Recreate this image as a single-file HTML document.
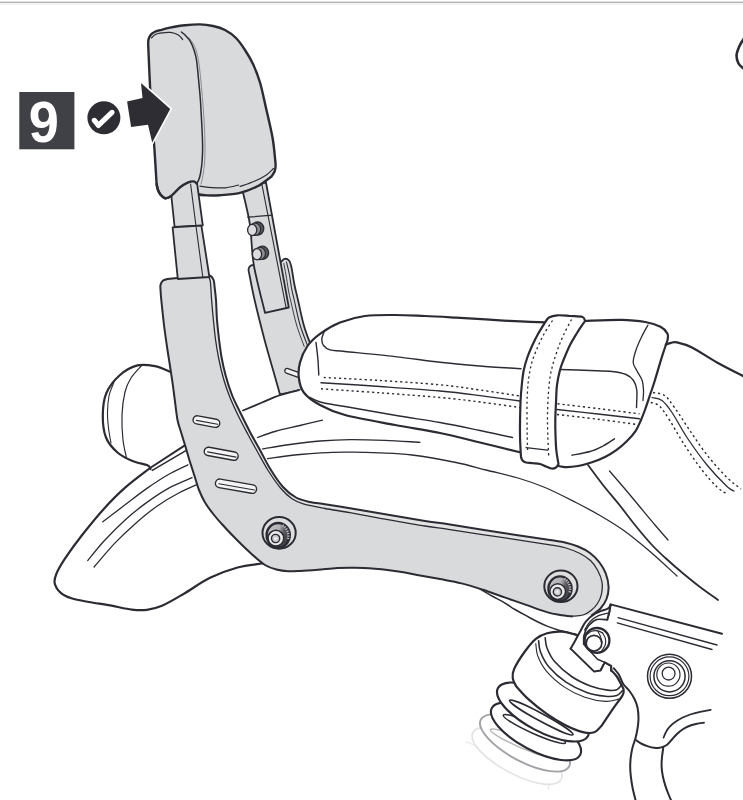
<!DOCTYPE html>
<html><head><meta charset="utf-8"><title>Step 9</title>
<style>
html,body{margin:0;padding:0;background:#fff;}
body{width:743px;height:800px;overflow:hidden;font-family:"Liberation Sans",sans-serif;}
svg{display:block;}
</style></head><body>
<svg width="743" height="800" viewBox="0 0 743 800" stroke-linecap="round" stroke-linejoin="round">
<defs><linearGradient id="kn" x1="0" y1="0.2" x2="1" y2="0.5"><stop offset="0" stop-color="#c4c4c8"/><stop offset="0.5" stop-color="#b2b2b6"/><stop offset="0.72" stop-color="#5a5a60"/><stop offset="1" stop-color="#3a3a40"/></linearGradient></defs>
<rect x="0" y="1.6" width="743" height="1.4" fill="#b4b4b4"/>
<rect x="0" y="3" width="743" height="2" fill="#f3f3f3"/>
<path d="M744,38.5C743.2,39.8 740.7,43.2 739.5,46C738.3,48.8 736.8,52.1 736.6,55C736.4,57.9 737.3,61.2 738.5,63.5C739.7,65.8 743.1,68.1 744,69" fill="none" stroke="#2b2b33" stroke-width="2.6" />
<path d="M249.5,275C249.3,274 248.3,270.6 248.6,269C248.8,267.4 249.9,266.2 251,265.5C252.1,264.8 254.3,265.1 255,265L281,262C281.6,261.5 283.2,259.1 284.5,258.8C285.8,258.6 287.8,259.1 289,260.5C290.2,261.9 290.6,263.4 291.5,267.5C292.4,271.6 293.4,279.6 294.5,285C295.6,290.4 296.5,293.4 298,300C299.5,306.6 301.6,317.3 303.6,324.5C305.6,331.7 307.5,336.6 310.2,343.3C312.9,350.1 318.4,361.4 320,365L322,384C318.2,385 306,388.2 299,390C292,391.8 283.2,393.8 280,394.5L280,394.5C278.9,390.7 276.2,381.1 273.5,371.6C270.8,362.1 267.1,349.6 264,337.7C260.9,325.8 257,310.4 254.6,300C252.2,289.6 250.3,279.2 249.5,275Z" fill="#d9dadb" stroke="#2b2b33" stroke-width="1.8" />
<path d="M286.5,262C287,264.2 288.7,270.7 289.5,275C290.3,279.3 290.7,283.8 291.5,288C292.3,292.2 292.8,293.9 294.2,300C295.6,306.1 297.7,317 299.9,324.5C302.1,332 306.1,341.8 307.4,345.2" fill="none" stroke="#2b2b33" stroke-width="1.1" />
<path d="M283.8,263.5C284.2,265.4 285.2,270.6 286,275C286.8,279.4 287.6,285.5 288.4,290C289.2,294.5 289.6,296.2 291,302C292.4,307.8 294.4,317.6 296.6,325C298.8,332.4 302.9,342.9 304.2,346.5" fill="none" stroke="#2b2b33" stroke-width="0.9" />
<g transform="translate(291,372.2) rotate(20)"><rect x="-6.5" y="-2.4" width="16" height="4.8" rx="2.4" fill="#f2f2f3" stroke="#2b2b33" stroke-width="1.3"/></g>
<path d="M241.5,186C241.8,187.1 241.6,186 243,192.5C244.4,199 248.2,212.9 250,225C251.8,237.1 251.3,250.4 253.8,265C256.3,279.6 263.1,304.8 265,312.8L265,312.8L288.8,307.5L288.8,307.5L266,182.5Z" fill="#d9dadb" stroke="#2b2b33" stroke-width="1.8" />
<path d="M261.8,183.8L286.2,308.2" fill="none" stroke="#2b2b33" stroke-width="1.1" />
<path d="M247.8,217.2L272.3,215.2" fill="none" stroke="#2b2b33" stroke-width="1.2" />
<g transform="translate(252.8,229.4)">
<ellipse cx="4.8" cy="-0.8" rx="6.2" ry="6.6" fill="#55555c" stroke="#2b2b33" stroke-width="1.3"/>
<ellipse cx="2.2" cy="-0.2" rx="5.6" ry="6.2" fill="#8d8d93" stroke="#2b2b33" stroke-width="1.1"/>
<ellipse cx="-0.6" cy="0.6" rx="4.6" ry="5.6" fill="#dcdcde" stroke="#2b2b33" stroke-width="1.3"/>
</g>
<g transform="translate(257.6,253.6)">
<ellipse cx="4.8" cy="-0.8" rx="6.2" ry="6.6" fill="#55555c" stroke="#2b2b33" stroke-width="1.3"/>
<ellipse cx="2.2" cy="-0.2" rx="5.6" ry="6.2" fill="#8d8d93" stroke="#2b2b33" stroke-width="1.1"/>
<ellipse cx="-0.6" cy="0.6" rx="4.6" ry="5.6" fill="#dcdcde" stroke="#2b2b33" stroke-width="1.3"/>
</g>
<path d="M150,469L185,446L243,410.5C249.2,407.9 270.7,398.6 280,395.2C289.3,391.8 290.7,391.9 299,390C307.3,388.1 324.8,385 330,384L330,384C345,393.3 388.3,424.3 420,440C451.7,455.7 488.3,464.3 520,478C551.7,491.7 590,508.3 610,522C630,535.7 641.7,547 640,560C638.3,573 636.7,597.5 600,600C563.3,602.5 470,579.8 420,575C370,570.2 326.7,572.9 300,571C273.3,569.1 270.4,564.4 260,563.8C249.6,563.2 247.5,564.8 237.5,567.5C227.5,570.2 208.6,576.5 200,580C191.4,583.5 190.8,586.1 185.8,588.8C180.8,591.5 176,593.1 170,596C164,598.9 155.8,603.9 150,606C144.2,608.1 140,608.5 135,608.8C130,609 125,608.3 120,607.5C115,606.7 110.4,604.7 105,603.8C99.6,602.9 93.3,603 87.5,602C81.7,601 74.8,599.3 70,597.5C65.2,595.7 61.4,593.5 58.8,591C56.2,588.5 55,585.6 54.5,582.5C54,579.4 53.8,577.1 56,572.5C58.2,567.9 63.7,560.4 67.5,555C71.3,549.6 73.4,546.7 78.8,540C84.2,533.3 92.3,523.3 100,515C107.7,506.7 116.9,497.9 125,490C133.1,482.1 144.8,471.2 148.8,467.5Z" fill="#fff" stroke="none" stroke-width="0" />
<path d="M150.1,468C146,471.2 133.1,480.6 125.4,487.4C117.7,494.2 111,501 103.8,508.9C96.6,516.8 88.8,526.5 82.3,534.7C75.8,543 69.4,551.9 65.1,558.4C60.8,564.9 58.2,569.4 56.5,573.5C54.8,577.6 54,580 54.7,583.2C55.4,586.4 58,590.4 60.8,592.9C63.6,595.4 66.8,596.8 71.5,598.3C76.2,599.8 82.3,600.8 88.8,602C95.3,603.2 103.1,604.1 110.3,605.4C117.5,606.7 125.7,608.9 131.8,609.6C137.9,610.3 141.9,610.4 146.9,609.8C151.9,609.2 155.9,608.4 162,605.8C168.1,603.2 175.5,598.7 183.5,594C191.5,589.3 201,582.2 210,577.8C219,573.4 228.8,569.9 237.5,567.5C246.2,565.1 257.9,564.2 262,563.5" fill="none" stroke="#2b2b33" stroke-width="2.2" />
<path d="M243,410.5C246.2,409.2 255.8,405.1 262,402.5C268.2,399.9 273.8,397.2 280,395.2C286.2,393.1 295.8,391 299,390.2" fill="none" stroke="#2b2b33" stroke-width="1.8" />
<path d="M102.8,521.8C106.6,518.9 118.1,510.2 125.4,504.6C132.8,499 139.7,493.4 146.9,488.4C154.1,483.4 161.6,478.4 168.4,474.5C175.2,470.6 184.6,466.4 187.8,464.8" fill="none" stroke="#2b2b33" stroke-width="1.3" />
<path d="M87.7,560.6C90.4,557.4 97.5,548 103.8,541.2C110.1,534.4 118.2,526.2 125.4,519.7C132.6,513.2 139.7,507.6 146.9,502.4C154.1,497.2 160.9,492.5 168.4,488.4C175.9,484.3 188.2,479.5 192.1,477.7" fill="none" stroke="#2b2b33" stroke-width="1.3" />
<path d="M94.1,567C97.5,563.1 107.6,550.8 114.6,543.4C121.6,536 128.9,529.2 136.1,522.9C143.3,516.6 150.5,510.7 157.7,505.7C164.9,500.7 172.6,496.3 179.2,492.8C185.8,489.3 194,486 197,484.6" fill="none" stroke="#2b2b33" stroke-width="1.3" />
<path d="M257.5,437.5C260.4,436.5 267.9,433.5 275,431.5C282.1,429.5 292.1,427.4 300,425.5C307.9,423.6 318.8,421.1 322.5,420.2" fill="none" stroke="#2b2b33" stroke-width="1.3" />
<path d="M262.5,448.8C267.1,448.1 280.4,445.8 290,444.5C299.6,443.2 310,441.8 320,441C330,440.2 339.2,439.7 350,439.6C360.8,439.5 373.3,439.9 385,440.3C396.7,440.8 414.2,442 420,442.3" fill="none" stroke="#2b2b33" stroke-width="1.3" />
<path d="M267.5,458.6C272.9,457.9 287.1,455.6 300,454.5C312.9,453.4 331.7,452.5 345,452.2C358.3,451.9 368.8,452.3 380,452.8C391.2,453.3 399.3,453.4 412,455C424.7,456.6 443.7,460 456,462.5C468.3,465 475.7,467.4 486,470C496.3,472.6 508.2,475.1 518,478C527.8,480.9 535.5,483.5 545,487.5C554.5,491.5 565.8,497.3 575,502C584.2,506.7 591.8,510.7 600,515.5C608.2,520.3 616.2,525 624.5,531C632.8,537 641.2,544 650,551.5C658.8,559 672.5,571.9 677,576" fill="none" stroke="#2b2b33" stroke-width="1.3" />
<path d="M170.5,372C167.9,371 160.5,367.3 155,366.2C149.5,365.1 143.3,363.9 137.5,365.4C131.7,366.9 125.2,370.4 120,375C114.8,379.6 109.3,386.3 106.4,393C103.5,399.7 102.9,407.6 102.8,415C102.7,422.4 103.5,431.2 106,437.5C108.5,443.8 113.1,448.6 117.5,452.5C121.9,456.4 127.5,458.9 132.5,461C137.5,463.1 144.5,464 147.5,465.3C150.5,466.6 150,468.4 150.5,469L184,443L172,380Z" fill="#fff" stroke="none" stroke-width="0" />
<path d="M170.5,372C167.9,371 160.5,367.3 155,366.2C149.5,365.1 143.3,363.9 137.5,365.4C131.7,366.9 125.2,370.4 120,375C114.8,379.6 109.3,386.3 106.4,393C103.5,399.7 102.9,407.6 102.8,415C102.7,422.4 103.5,431.2 106,437.5C108.5,443.8 113.1,448.6 117.5,452.5C121.9,456.4 127.5,458.9 132.5,461C137.5,463.1 144.5,464 147.5,465.3C150.5,466.6 150,468.4 150.5,469" fill="none" stroke="#2b2b33" stroke-width="2.2" />
<path d="M141.5,365.6C139.8,367.7 133.8,373.6 131,378C128.2,382.4 126.5,385.8 125,392C123.5,398.2 122.3,407 122,415C121.7,423 122.2,432.8 123,440C123.8,447.2 125.9,455 126.5,458" fill="none" stroke="#2b2b33" stroke-width="1.2" />
<path d="M113.8,382.5C113,384.8 110,391.1 109,396C108,400.9 107.6,406.7 107.5,412C107.4,417.3 107.9,422.8 108.5,428C109.1,433.2 110.6,440.5 111,443" fill="none" stroke="#2b2b33" stroke-width="1.1" />
<path d="M150.1,468L186,444.6" fill="none" stroke="#2b2b33" stroke-width="2.0" />
<path d="M152.3,470.4L188,449.4" fill="none" stroke="#2b2b33" stroke-width="1.6" />
<path d="M665,343.8L677,342.5L692,347.5L717,362.5L745,377L745,500L600,500L588,465L640,420Z" fill="#fff" stroke="none" stroke-width="0" />
<path d="M667.6,340C667.6,338.9 668.6,335.7 667.4,333.5C666.2,331.3 664.2,328.7 660.5,326.8C656.8,324.9 651.9,323.2 645.3,322C638.7,320.8 631.2,320 621.1,319.8C611,319.6 590.6,320.8 584.5,321L584.5,321C577.9,321.2 559.1,322.4 545,322.3C530.9,322.2 514.8,321.1 500,320.3C485.2,319.5 468.5,318.3 456,317.6C443.5,316.9 435.2,316.4 425,316C414.8,315.6 405,315 395,315C385,315 374.2,314.8 365,316C355.8,317.2 347.5,319.5 340,322.5C332.5,325.5 325.4,329.9 320,333.8C314.6,337.7 310.8,341.2 307.5,346C304.2,350.8 301.4,357.2 300,362.5C298.6,367.8 298.2,372.5 298.8,377.5C299.4,382.5 300.3,387.9 303.8,392.5C307.3,397.1 313.1,401.2 320,405C326.9,408.8 332.5,411.7 345,415C357.5,418.3 379.2,422 395,425C410.8,428 425.8,430.1 440,433C454.2,435.9 466.5,439.2 480,442.5C493.5,445.8 514.2,450.8 521,452.5L521,452.5C525,454.1 538,459.6 545,462C552,464.4 557.5,466.1 563,466.8C568.5,467.5 573.2,466.8 578,466C582.8,465.2 587.5,463.8 592,462.3C596.5,460.8 601,459 605,457C609,455 612.6,452.9 616.3,450.2C620,447.5 623.8,444.2 627,441C630.2,437.8 633.4,434.3 635.7,430.8C638,427.3 639.4,423.6 641,420C642.6,416.4 643.8,413.2 645.3,409C646.8,404.8 648.4,399.8 650,395C651.6,390.2 653,386.6 655,380C657,373.4 660.2,362.4 662.3,355.7C664.4,349 666.7,342.6 667.6,340Z" fill="#fff" stroke="#2b2b33" stroke-width="2.2" />
<path d="M665.8,344.6C666.7,344.3 669.1,343.2 671,342.8C672.9,342.4 673.5,341.6 677,342.4C680.5,343.2 685.3,344.1 692,347.5C698.7,350.9 708.2,357.6 717,362.5C725.8,367.4 740.3,374.6 745,377" fill="none" stroke="#2b2b33" stroke-width="2.2" />
<path d="M310,397.5C312,398.3 316.2,401 322,402.5C327.8,404 332.8,404.4 345,406.5C357.2,408.6 379.2,412.6 395,415.3C410.8,418 425.8,420 440,422.5C454.2,425 467.9,428 480,430.5C492.1,433 507.1,436.3 512.5,437.5" fill="none" stroke="#2b2b33" stroke-width="1.4" />
<path d="M323.8,332.5C323.5,333.6 321.9,336.8 321.8,339C321.8,341.2 322.1,343.7 323.5,345.5C324.9,347.3 326.4,348.8 330,349.8C333.6,350.8 334.2,350.4 345,351.5C355.8,352.6 379.2,354.8 395,356.6C410.8,358.4 425.8,360.7 440,362.3C454.2,363.9 466.5,364.9 480,366C493.5,367.1 514.2,368.3 521,368.8" fill="none" stroke="#2b2b33" stroke-width="1.4" />
<path d="M316,342.5C316.3,345.1 317.3,352.6 317.8,358C318.3,363.4 318.6,372.2 318.8,375" fill="none" stroke="#2b2b33" stroke-width="1.4" />
<path d="M323.8,377.5C333.2,378 360.6,379.3 380,380.5C399.4,381.7 423.3,383.2 440,384.8C456.7,386.4 466.7,388.1 480,390C493.3,391.9 513.3,395 520,396" fill="none" stroke="#2b2b33" stroke-width="1.4" stroke-dasharray="2.2 2.9" stroke-linecap="butt"/>
<path d="M321,382.7C330.8,383.3 360.2,385.1 380,386.5C399.8,387.9 423.3,389.5 440,391C456.7,392.5 466.7,393.9 480,395.6C493.3,397.3 513.3,400.1 520,401" fill="none" stroke="#2b2b33" stroke-width="1.4" />
<path d="M321,388.8C330.8,389.5 360.2,391.4 380,392.8C399.8,394.2 423.3,396 440,397.5C456.7,399 466.7,400.3 480,402C493.3,403.7 513.3,406.6 520,407.5" fill="none" stroke="#2b2b33" stroke-width="1.4" stroke-dasharray="2.2 2.9" stroke-linecap="butt"/>
<path d="M560,369.5C565,369.7 581.3,370.2 590,370.5C598.7,370.8 606,370.8 612,371.5C618,372.2 622.4,373 626,374.5C629.6,376 631.7,377.9 633.5,380.5C635.3,383.1 636.3,385.5 636.8,390C637.3,394.5 636.5,404.6 636.5,407.5" fill="none" stroke="#2b2b33" stroke-width="1.4" />
<path d="M648,325C646.9,327 643.5,332.8 641.5,337C639.5,341.2 637.4,345.8 636,350C634.6,354.2 633,359 633.2,362.5C633.4,366 635.5,368.1 637,371C638.5,373.9 640.9,376.8 642,380C643.1,383.2 643.3,386.6 643.5,390C643.7,393.4 643.1,398.8 643,400.5" fill="none" stroke="#2b2b33" stroke-width="1.3" />
<path d="M557.5,403.8C564.6,404.6 586.3,407.1 600,408.8C613.7,410.5 632.9,413 639.5,413.8" fill="none" stroke="#2b2b33" stroke-width="1.4" stroke-dasharray="2.2 2.9" stroke-linecap="butt"/>
<path d="M557,409.5C564.2,410.3 586.2,412.6 600,414.2C613.8,415.8 632.9,418 639.5,418.8" fill="none" stroke="#2b2b33" stroke-width="1.4" />
<path d="M557,414.5C564.2,415.3 586.7,417.8 600,419.5C613.3,421.2 630.8,423.7 637,424.5" fill="none" stroke="#2b2b33" stroke-width="1.4" stroke-dasharray="2.2 2.9" stroke-linecap="butt"/>
<path d="M572,455.2C575,454.6 584.8,453 590,451.5C595.2,450 598.9,448.1 603,446C607.1,443.9 612.6,440 614.5,438.8" fill="none" stroke="#2b2b33" stroke-width="1.4" />
<path d="M653,392.5C654.9,393 660.9,393 664.5,395.5C668.1,398 670.3,401.8 674.5,407.5C678.7,413.2 684.1,422.1 689.5,430C694.9,437.9 700.8,447.1 707,455C713.2,462.9 721.3,471.8 727,477.5C732.7,483.2 738.7,487.1 741,489" fill="none" stroke="#2b2b33" stroke-width="1.4" stroke-dasharray="2.2 2.9" stroke-linecap="butt"/>
<path d="M652,397.5C653.7,398 658.7,398 662,400.5C665.3,403 667.8,406.3 672,412.5C676.2,418.7 681.2,428.8 687,437.5C692.8,446.2 700.3,456.8 707,465C713.7,473.2 722.5,482.2 727,486.5C731.5,490.8 732.8,490.2 734,491" fill="none" stroke="#2b2b33" stroke-width="1.3" />
<path d="M650.8,402.5C652.2,403.1 656.4,403.1 659.5,406C662.6,408.9 665.3,413.5 669.5,420C673.7,426.5 679.1,436.7 684.5,445C689.9,453.3 696.6,463 702,470C707.4,477 712.8,483 717,487C721.2,491 725.3,492.8 727,494" fill="none" stroke="#2b2b33" stroke-width="1.4" stroke-dasharray="2.2 2.9" stroke-linecap="butt"/>
<path d="M588,465C590.5,468.3 597.8,478.3 603,485C608.2,491.7 614.2,498.3 619.5,505C624.8,511.7 629.6,518.3 635,525C640.4,531.7 646.8,539.4 652,545C657.2,550.6 661,553.9 666,558.5C671,563.1 676.3,567.8 682,572.5C687.7,577.2 694,582.4 700,587C706,591.6 715,597.8 718,600" fill="none" stroke="#2b2b33" stroke-width="1.8" />
<path d="M609.5,471C612.1,474 619.9,483 625,489C630.1,495 635,501 640,507C645,513 650.3,519.5 655,525C659.7,530.5 665.8,537.5 668,540" fill="none" stroke="#2b2b33" stroke-width="1.3" />
<path d="M545,322.5C545.7,321.7 546.9,318.7 549,317.5C551.1,316.3 554,315.6 557.5,315.3C561,315.1 565.8,315.7 570,316C574.2,316.3 580,316.2 582.5,317C585,317.8 584.6,320.3 585,321L585,321C583.7,323 579.5,329 577,333C574.5,337 572.2,340.5 570,345C567.8,349.5 565.2,355.8 563.5,360C561.8,364.2 561.1,365.8 560,370C558.9,374.2 557.7,379.6 557,385C556.3,390.4 556.3,396.7 556,402.5C555.7,408.3 555.4,414.6 555.3,420C555.2,425.4 555.3,430 555.5,435C555.7,440 555.8,445.2 556.3,450C556.8,454.8 558.1,461.7 558.5,464L558.5,464C558.1,464.6 557.2,466.8 556,467.5C554.8,468.2 553.2,468.7 551.5,468.5C549.8,468.3 547.9,467.2 546,466.5C544.1,465.8 542.2,464.6 540,464C537.8,463.4 535.3,463.4 533,463.2C530.7,462.9 527.8,462.9 526,462.5C524.2,462.1 523.3,461.4 522.5,460.5C521.7,459.6 521.2,457.6 521,457L521,457C520.8,453.3 520.1,444.1 520,435C519.9,425.9 520.2,410.8 520.5,402.5C520.8,394.2 521.2,390.4 521.8,385C522.3,379.6 522.8,374.7 523.8,370C524.8,365.3 526,361.2 527.5,357C529,352.8 530.8,348.8 532.5,345C534.2,341.2 535.9,337.8 538,334C540.1,330.2 543.8,324.4 545,322.5Z" fill="#fff" stroke="#2b2b33" stroke-width="2.2" />
<path d="M552.5,320.5C551.1,322.8 546.5,329.5 544,334C541.5,338.5 539.5,342.8 537.5,347.5C535.5,352.2 533.5,357 532,362C530.5,367 529.6,372 528.8,377.5C528,383 527.6,388.8 527.3,395C527,401.2 527,408.3 527,415C527,421.7 527.1,428.8 527.2,435C527.3,441.2 527.6,449.6 527.7,452.5" fill="none" stroke="#2b2b33" stroke-width="1.3" stroke-dasharray="2.2 2.9" stroke-linecap="butt"/>
<path d="M571.5,319.5C570.2,322.1 565.8,329.9 563.5,335C561.2,340.1 559.2,345.2 557.5,350C555.8,354.8 554.2,359.4 553,364C551.8,368.6 550.8,372.3 550,377.5C549.2,382.7 548.7,388.8 548.3,395C547.9,401.2 547.6,408.3 547.5,415C547.4,421.7 547.6,427.9 547.8,435C548,442.1 548.6,453.8 548.8,457.5" fill="none" stroke="#2b2b33" stroke-width="1.3" stroke-dasharray="2.2 2.9" stroke-linecap="butt"/>
<path d="M526,447.7L547.5,450.2" fill="none" stroke="#2b2b33" stroke-width="1.3" />
<path d="M610.8,604.2L722,633.8L722,760L640,760L636,705L612,668L600,645L596,622Z" fill="#fff" stroke="none" stroke-width="0" />
<path d="M722,633.8L610.6,604.4L609.2,612.6L607.2,619.8" fill="none" stroke="#2b2b33" stroke-width="2.0" />
<path d="M618,617.6L717,645" fill="none" stroke="#2b2b33" stroke-width="1.3" />
<path d="M617.2,622.8L712,649.5" fill="none" stroke="#2b2b33" stroke-width="1.3" />
<circle cx="669.5" cy="676.3" r="22" fill="#fff" stroke="#2b2b33" stroke-width="1.5"/>
<circle cx="669.5" cy="676.3" r="19.4" fill="#fff" stroke="#2b2b33" stroke-width="1.2"/>
<circle cx="669.5" cy="676.3" r="15.6" fill="#fff" stroke="#2b2b33" stroke-width="1.5"/>
<circle cx="668.4" cy="674.6" r="11.6" fill="none" stroke="#2b2b33" stroke-width="1.2"/>
<circle cx="668.6" cy="673.6" r="6.4" fill="none" stroke="#2b2b33" stroke-width="1.3"/>
<path d="M611.4,665.6C612.6,667 616.5,671 618.5,674C620.5,677 621.3,681 623.1,683.8C624.9,686.6 627.6,688.4 629.5,691C631.4,693.6 633.2,696.4 634.6,699.2C636,702 637,704.8 637.6,708C638.2,711.2 638.5,715.2 638.5,718.5C638.5,721.8 638.1,724.8 637.6,728C637.1,731.2 636.5,734.4 635.6,737.7C634.7,741 633.2,744.8 632.4,748C631.6,751.2 631.2,753.8 630.8,757C630.4,760.2 630.2,763.8 630.2,767C630.2,770.2 630.4,772.7 630.8,776.2C631.2,779.7 631.8,783.9 632.6,788C633.4,792.1 635.3,798.8 635.8,801" fill="none" stroke="#2b2b33" stroke-width="2.0" />
<path d="M636.4,740.4C637.3,741 640,743 642,744C644,745 646.1,745.8 648.1,746.4C650.1,747 652.1,747.6 654,747.8C655.9,748 658,747.9 659.7,747.7C661.4,747.5 662.7,746.9 664,746.4C665.3,745.9 666.1,745.6 667.4,744.5C668.7,743.4 670.4,741.3 672,739.5C673.6,737.7 675.2,735.6 677,733.9C678.8,732.2 680.6,730.8 682.5,729.5C684.4,728.2 686.2,727.1 688.5,726.2C690.8,725.3 693.4,724.6 696,724C698.6,723.4 702.6,722.9 703.9,722.7" fill="none" stroke="#2b2b33" stroke-width="2.0" />
<path d="M663.5,737.7C663.9,736.8 665,733.8 666,732C667,730.2 667.7,728.9 669.3,727.2C670.9,725.5 673.2,723.4 675.5,721.8C677.8,720.2 680.2,718.8 682.8,717.5C685.4,716.2 688.1,715.2 691,714.2C693.9,713.2 696.8,712.5 700.1,711.8C703.4,711.1 708.9,710.1 710.7,709.8" fill="none" stroke="#2b2b33" stroke-width="1.7" />
<path d="M663.3,747.6C663.1,749.2 662.3,753.8 662,757C661.7,760.2 661.5,763.4 661.6,766.6C661.7,769.8 662.2,772.8 662.8,776C663.4,779.2 664.5,783.1 665.4,785.9C666.3,788.7 667,790.5 668,793C669,795.5 670.8,799.7 671.4,801" fill="none" stroke="#2b2b33" stroke-width="2.0" />
<path d="M466,742C467.3,742.5 471.5,743.3 474,745C476.5,746.7 479.8,750.8 481,752" fill="none" stroke="#ececed" stroke-width="1.4" />
<path d="M527,779C527.7,777.7 530.2,773 531,771C531.8,769 531.4,767.7 531.5,767" fill="none" stroke="#e4e4e6" stroke-width="1.4" />
<path d="M537,783C537.4,781.8 539.2,778.3 539.5,776C539.8,773.7 538.7,770.2 538.5,769" fill="none" stroke="#e4e4e6" stroke-width="1.4" />
<path d="M548,789C548.3,787.5 549.9,783.2 550,780C550.1,776.8 548.8,771.7 548.5,770" fill="none" stroke="#e9e9ea" stroke-width="1.4" />
<ellipse cx="517" cy="756" rx="50" ry="18" fill="#fff" stroke="#e2e2e4" stroke-width="1.6" transform="rotate(28 517 756)"/>
<ellipse cx="525" cy="743" rx="50" ry="18.5" fill="#fff" stroke="#a2a2a7" stroke-width="1.9" transform="rotate(28 525 743)"/>
<ellipse cx="523.6" cy="743.7" rx="36" ry="4.8" fill="#fff" stroke="#b4b4b8" stroke-width="1.4" transform="rotate(23 523.6 743.7)"/>
<ellipse cx="536" cy="731.5" rx="50" ry="19" fill="#fff" stroke="#2b2b33" stroke-width="2.1" transform="rotate(28 536 731.5)"/>
<ellipse cx="534.4" cy="729" rx="34" ry="4.6" fill="#fff" stroke="#2b2b33" stroke-width="1.6" transform="rotate(24 534.4 729)"/>
<ellipse cx="543" cy="712" rx="51" ry="19.4" fill="#fff" stroke="#2b2b33" stroke-width="2.2" transform="rotate(28 543 712)"/>
<ellipse cx="541.3" cy="717.5" rx="36" ry="3.8" fill="#fff" stroke="#2b2b33" stroke-width="1.7" transform="rotate(28.4 541.3 717.5)"/>
<path d="M577.3,635.1C574.8,634.5 567.2,632 562.2,631.7C557.2,631.4 551.5,632 547.1,633.2C542.7,634.4 539.6,635.7 535.8,638.8C532,641.9 528.1,647 524.5,652C520.9,657 516.1,664.6 514.1,669C512.1,673.4 512.5,675.6 512.8,678.4C513.1,681.2 515.5,684.7 516,686L516,686C518,688.2 523.1,694.4 528.3,699.1C533.5,703.8 540.8,709.8 547.1,714.2C553.4,718.6 560,722.5 566,725.5C572,728.5 578.2,731 582.9,732.1C587.6,733.2 591.1,733.4 594.2,732.3C597.4,731.2 600.5,726.6 601.8,725.5L601.8,725.5C603.7,722.7 609.6,713.6 613.1,708.6C616.6,703.6 620.8,698.5 622.5,695.4C624.2,692.2 623.8,691.4 623.6,689.7C623.4,688 621.9,685.8 621.5,685L621.5,685C620.7,683.6 618.5,678.9 616.8,676.5C615.1,674.1 612.1,671.4 611.2,670.4L611.2,665.8L604.8,662.4L590,643Z" fill="#fff" stroke="#2b2b33" stroke-width="2.2" />
<path d="M545.2,637.9C545.5,639.6 545.5,644.4 547.1,648.3C548.7,652.2 550.5,656.8 554.6,661.5C558.7,666.2 565.6,672.4 571.6,676.5C577.6,680.6 584.4,683.7 590.4,686C596.4,688.3 603,689.5 607.4,690.1C611.8,690.7 614.4,690.6 616.8,689.7C619.1,688.9 620.7,685.8 621.5,685" fill="none" stroke="#2b2b33" stroke-width="1.6" />
<path d="M538.6,640.7C538.9,642.6 538.8,647.6 540.5,652C542.2,656.4 544.8,662.1 549,667.1C553.2,672.1 559.7,678 566,682.2C572.3,686.4 580.1,690.1 586.7,692.5C593.3,694.9 600.5,695.8 605.5,696.3C610.5,696.8 614,696.3 616.8,695.4C619.6,694.5 621.5,691.5 622.5,690.7" fill="none" stroke="#2b2b33" stroke-width="1.6" />
<path d="M535.8,643.6C536.1,645.6 536,651.2 537.7,655.8C539.4,660.3 541.8,665.7 546.2,670.9C550.6,676.1 557.7,682.5 564.1,686.9C570.5,691.3 577.9,694.9 584.8,697.3C591.7,699.7 599.9,701.1 605.5,701.4C611.1,701.7 616.5,699.5 618.7,699.1" fill="none" stroke="#2b2b33" stroke-width="1.1" />
<path d="M610.5,605L595.4,613.4L585.8,621.6L579.6,632.6L570.6,648.6L594.2,671.6L600.6,670.6L604.8,662.4L611.2,665.8L611.2,670.2L616,664L612.5,640L611.5,622L608,619.8Z" fill="#fff" stroke="none" stroke-width="0" />
<path d="M610.2,605.4C609.8,605.9 610.3,607.3 607.8,608.6C605.3,609.9 599.1,611.2 595.4,613.4C591.7,615.6 588.4,618.4 585.8,621.6C583.2,624.8 581.4,629.4 579.6,632.6C577.8,635.8 576.5,638.3 575,641C573.5,643.7 571.3,647.3 570.6,648.6" fill="none" stroke="#2b2b33" stroke-width="2.0" />
<path d="M609,612.8C607.2,613.3 601.7,614.1 598.5,615.6C595.3,617.1 592.3,619.2 590,621.6C587.7,624 585.5,628.6 584.6,630" fill="none" stroke="#2b2b33" stroke-width="1.2" />
<path d="M607.2,619.8C605.5,619.8 599.9,618.6 596.8,619.6C593.7,620.6 590.6,623.2 588.5,625.8C586.4,628.4 584.8,632.3 584,635.4C583.2,638.5 583.8,642.8 583.7,644.3" fill="none" stroke="#2b2b33" stroke-width="1.6" />
<path d="M610.6,604.4L609.2,612.6L607.2,619.8" fill="none" stroke="#2b2b33" stroke-width="2.0" />
<path d="M570.6,648.6L594.2,671.6L600.6,670.6L604.8,662.4L611.2,665.8L611.2,670.8" fill="none" stroke="#2b2b33" stroke-width="2.0" />
<path d="M583.7,644.3L597.5,659.2L604.8,662.4" fill="none" stroke="#2b2b33" stroke-width="1.5" />
<path d="M603,664.4L600.4,669.6" fill="none" stroke="#2b2b33" stroke-width="1.0" />
<circle cx="597" cy="640.4" r="12.4" fill="#fff" stroke="#2b2b33" stroke-width="2.3"/>
<circle cx="594" cy="643.2" r="7.8" fill="#fff" stroke="#2b2b33" stroke-width="1.7"/>
<path d="M587.6,634.2C588.2,633.7 589.8,631.8 591.5,631.2C593.2,630.6 595.8,630.5 597.6,630.8C599.5,631.1 601.8,632.6 602.6,633" fill="none" stroke="#2b2b33" stroke-width="1.2" />
<path d="M597.6,630.8L600.6,636.6" fill="none" stroke="#2b2b33" stroke-width="1.1" />
<path d="M602.6,633C603.1,633.9 605,636.6 605.4,638.6C605.8,640.6 605.8,643 605.2,645C604.6,647 602.5,649.5 602,650.4" fill="none" stroke="#2b2b33" stroke-width="1.2" />
<path d="M600.6,636.6L602.2,642.4" fill="none" stroke="#2b2b33" stroke-width="1.0" />
<path d="M205,275.2C205.9,275.3 209.1,275 210.5,275.8C211.9,276.6 212.9,278.1 213.6,280C214.3,281.9 214.2,283.7 214.6,287C215,290.3 215.6,294.5 216,300C216.4,305.5 216.5,313.8 217,320C217.5,326.2 218.1,331.3 218.8,337.5C219.6,343.7 220.4,350.8 221.5,357C222.6,363.2 223.8,368.7 225.5,375C227.2,381.3 229.5,388.7 232,395C234.5,401.3 237.5,406.8 240.5,413C243.5,419.2 246.8,425.8 250,432C253.2,438.2 256.7,443.9 260,450C263.3,456.1 266.2,462.3 270,468.5C273.8,474.7 278.7,482.2 283,487C287.3,491.8 291.5,495 296,497.5C300.5,500 305.2,500.9 310,502C314.8,503.1 318.3,503.2 325,504.2C331.7,505.2 341.7,506.8 350,508.2C358.3,509.6 362.5,510.4 375,512.5C387.5,514.6 412.5,519 425,521C437.5,523 437.5,522.6 450,524.5C462.5,526.4 483.3,529.9 500,532.5C516.7,535.1 539.2,538.3 550,540C560.8,541.7 560.3,541.4 565,542.5C569.7,543.6 573.8,544.8 578,546.5C582.2,548.2 586.4,550.3 590,553C593.6,555.7 596.9,559.1 599.5,562.5C602.1,565.9 604.3,569.4 605.8,573.5C607.3,577.6 608.5,582.8 608.6,587C608.7,591.2 607.9,595.4 606.5,599C605.1,602.6 602.9,605.8 600.5,608.5C598.1,611.2 593.4,613.9 592,615L572,616.2C573.8,616 579.8,616 583,615C586.2,614 588.6,612.4 591,610.5C593.4,608.6 595.8,606.2 597.5,603.5C599.2,600.8 600.8,597.6 601.5,594C602.2,590.4 602.7,586 602,582C601.3,578 599.4,573.6 597.5,570C595.6,566.4 593.4,563.2 590.5,560.5C587.6,557.8 584.1,555.6 580,553.5C575.9,551.4 571,549.5 566,548C561,546.5 561,546.6 550,544.8C539,543 516.7,539.7 500,537.2C483.3,534.7 462.5,531.5 450,529.6C437.5,527.7 437.5,528 425,526C412.5,524 387.5,519.5 375,517.3C362.5,515.1 358.3,514.1 350,512.6C341.7,511.1 332.7,509.9 325,508.5C317.3,507.1 309.5,505.8 304,504.2C298.5,502.6 295.9,501.5 292,498.8C288.1,496.1 284.5,492.8 280.5,488C276.5,483.2 271.6,476 267.8,470C264,464 260.9,457.9 257.6,452C254.3,446.1 251.2,440.5 248,434.5C244.8,428.5 241.4,422.2 238.4,416C235.4,409.8 232.5,403.7 230,397.5C227.5,391.3 225.5,385.6 223.6,379C221.7,372.4 219.9,364.5 218.6,358C217.3,351.5 216.5,346.3 215.6,340C214.7,333.7 214.1,326.7 213.4,320C212.7,313.3 212.1,306.3 211.6,300C211.1,293.7 210.9,285.9 210.4,282C209.9,278.1 209.5,277.9 208.4,276.8C207.3,275.7 204.7,275.7 204,275.5Z" fill="#e3e3e4" stroke="none" stroke-width="0" />
<path d="M479,588.4C481.2,589.7 487.7,593.6 492,596C496.3,598.4 500.8,600.5 504.6,602.8C508.4,605 511.4,607.4 515,609.5C518.6,611.6 522.4,613.7 526.1,615.7C529.8,617.7 533.4,619.7 537,621.5C540.6,623.3 544.2,625 547.7,626.4C551.2,627.8 554.4,628.9 558,630C561.6,631.1 565.9,632.1 569.2,632.9C572.5,633.7 576.5,634.6 578,635" fill="none" stroke="#2b2b33" stroke-width="1.5" />
<path d="M167.5,279L204,275.5C204.7,275.7 207.3,275.7 208.4,276.8C209.5,277.9 209.9,278.1 210.4,282C210.9,285.9 211.1,293.7 211.6,300C212.1,306.3 212.7,313.3 213.4,320C214.1,326.7 214.7,333.7 215.6,340C216.5,346.3 217.3,351.5 218.6,358C219.9,364.5 221.7,372.4 223.6,379C225.5,385.6 227.5,391.3 230,397.5C232.5,403.7 235.4,409.8 238.4,416C241.4,422.2 244.8,428.5 248,434.5C251.2,440.5 254.3,446.1 257.6,452C260.9,457.9 264,464 267.8,470C271.6,476 276.5,483.2 280.5,488C284.5,492.8 288.1,496.1 292,498.8C295.9,501.5 298.5,502.6 304,504.2C309.5,505.8 317.3,507.1 325,508.5C332.7,509.9 341.7,511.1 350,512.6C358.3,514.1 362.5,515.1 375,517.3C387.5,519.5 412.5,524 425,526C437.5,528 437.5,527.7 450,529.6C462.5,531.5 483.3,534.7 500,537.2C516.7,539.7 539,543 550,544.8C561,546.6 561,546.5 566,548C571,549.5 575.9,551.4 580,553.5C584.1,555.6 587.6,557.8 590.5,560.5C593.4,563.2 595.6,566.4 597.5,570C599.4,573.6 601.3,578 602,582C602.7,586 602.2,590.4 601.5,594C600.8,597.6 599.2,600.8 597.5,603.5C595.8,606.2 593.4,608.6 591,610.5C588.6,612.4 586.2,614 583,615C579.8,616 573.8,616 572,616.2C570,616.2 564,615.7 560,615C556,614.3 553.4,614.1 547.7,612.4C542.1,610.7 533.3,607.4 526.1,604.9C518.9,602.4 511.8,599.9 504.6,597.4C497.4,594.9 490.2,592.1 483,589.8C475.8,587.5 468.7,585.2 461.5,583.4C454.3,581.6 446.9,580.4 440,579.1C433.1,577.8 425.8,576.6 420,575.5C414.2,574.4 410.1,573.5 405,572.6C399.9,571.7 394.2,570.8 389.2,570.2C384.2,569.6 380.7,569.2 375,568.8C369.3,568.4 361.2,567.9 355,567.8C348.8,567.7 343.7,567.7 337.5,568C331.3,568.3 324.2,569.3 318,569.8C311.8,570.3 305,570.8 300,571C295,571.2 291.8,571.4 288,571.2C284.2,571 281.3,570.8 277.5,569.8C273.7,568.8 269.6,567.9 265,565C260.4,562.1 254.7,556.7 250,552.5C245.3,548.3 241.2,544.2 237,540C232.8,535.8 228.8,531.7 225,527.5C221.2,523.3 217.3,519.2 214,515C210.7,510.8 207.5,506.7 205,502.5C202.5,498.3 200.7,494.2 199,490C197.3,485.8 196.5,482.2 195,477.5C193.5,472.8 191.7,467.4 190,462C188.3,456.6 186.5,450 185,445C183.5,440 182.2,436.2 181,432C179.8,427.8 178.5,425.3 177.5,420C176.5,414.7 175.6,406.2 174.8,400C174,393.8 173.3,388.2 172.5,382.5C171.7,376.8 170.8,371.4 170,366C169.2,360.6 168.5,356.8 167.5,350C166.5,343.2 165,333.3 164,325C163,316.7 161.9,305.7 161.3,300C160.7,294.3 160.7,292.5 160.6,291C160.6,290 160.1,286.7 160.5,285C160.9,283.3 161.6,281.8 162.8,280.8C164,279.8 166.7,279.3 167.5,279Z" fill="#d9dadb" stroke="none" stroke-width="0" />
<path d="M205,275.2C205.9,275.3 209.1,275 210.5,275.8C211.9,276.6 212.9,278.1 213.6,280C214.3,281.9 214.2,283.7 214.6,287C215,290.3 215.6,294.5 216,300C216.4,305.5 216.5,313.8 217,320C217.5,326.2 218.1,331.3 218.8,337.5C219.6,343.7 220.4,350.8 221.5,357C222.6,363.2 223.8,368.7 225.5,375C227.2,381.3 229.5,388.7 232,395C234.5,401.3 237.5,406.8 240.5,413C243.5,419.2 246.8,425.8 250,432C253.2,438.2 256.7,443.9 260,450C263.3,456.1 266.2,462.3 270,468.5C273.8,474.7 278.7,482.2 283,487C287.3,491.8 291.5,495 296,497.5C300.5,500 305.2,500.9 310,502C314.8,503.1 318.3,503.2 325,504.2C331.7,505.2 341.7,506.8 350,508.2C358.3,509.6 362.5,510.4 375,512.5C387.5,514.6 412.5,519 425,521C437.5,523 437.5,522.6 450,524.5C462.5,526.4 483.3,529.9 500,532.5C516.7,535.1 539.2,538.3 550,540C560.8,541.7 560.3,541.4 565,542.5C569.7,543.6 573.8,544.8 578,546.5C582.2,548.2 586.4,550.3 590,553C593.6,555.7 596.9,559.1 599.5,562.5C602.1,565.9 604.3,569.4 605.8,573.5C607.3,577.6 608.5,582.8 608.6,587C608.7,591.2 607.9,595.4 606.5,599C605.1,602.6 602.9,605.8 600.5,608.5C598.1,611.2 593.4,613.9 592,615" fill="none" stroke="#2b2b33" stroke-width="2.0" />
<path d="M204,275.5C204.7,275.7 207.3,275.7 208.4,276.8C209.5,277.9 209.9,278.1 210.4,282C210.9,285.9 211.1,293.7 211.6,300C212.1,306.3 212.7,313.3 213.4,320C214.1,326.7 214.7,333.7 215.6,340C216.5,346.3 217.3,351.5 218.6,358C219.9,364.5 221.7,372.4 223.6,379C225.5,385.6 227.5,391.3 230,397.5C232.5,403.7 235.4,409.8 238.4,416C241.4,422.2 244.8,428.5 248,434.5C251.2,440.5 254.3,446.1 257.6,452C260.9,457.9 264,464 267.8,470C271.6,476 276.5,483.2 280.5,488C284.5,492.8 288.1,496.1 292,498.8C295.9,501.5 298.5,502.6 304,504.2C309.5,505.8 317.3,507.1 325,508.5C332.7,509.9 341.7,511.1 350,512.6C358.3,514.1 362.5,515.1 375,517.3C387.5,519.5 412.5,524 425,526C437.5,528 437.5,527.7 450,529.6C462.5,531.5 483.3,534.7 500,537.2C516.7,539.7 539,543 550,544.8C561,546.6 561,546.5 566,548C571,549.5 575.9,551.4 580,553.5C584.1,555.6 587.6,557.8 590.5,560.5C593.4,563.2 595.6,566.4 597.5,570C599.4,573.6 601.3,578 602,582C602.7,586 602.2,590.4 601.5,594C600.8,597.6 599.2,600.8 597.5,603.5C595.8,606.2 593.4,608.6 591,610.5C588.6,612.4 586.2,614 583,615C579.8,616 573.8,616 572,616.2" fill="none" stroke="#2b2b33" stroke-width="1.3" />
<path d="M572,616.4C570,616.2 564,615.7 560,615C556,614.3 553.4,614.1 547.7,612.4C542.1,610.7 533.3,607.4 526.1,604.9C518.9,602.4 511.8,599.9 504.6,597.4C497.4,594.9 490.2,592.1 483,589.8C475.8,587.5 468.7,585.2 461.5,583.4C454.3,581.6 446.9,580.4 440,579.1C433.1,577.8 425.8,576.6 420,575.5C414.2,574.4 410.1,573.5 405,572.6C399.9,571.7 394.2,570.8 389.2,570.2C384.2,569.6 380.7,569.2 375,568.8C369.3,568.4 361.2,567.9 355,567.8C348.8,567.7 343.7,567.7 337.5,568C331.3,568.3 324.2,569.3 318,569.8C311.8,570.3 305,570.8 300,571C295,571.2 291.8,571.4 288,571.2C284.2,571 281.3,570.8 277.5,569.8C273.7,568.8 269.6,567.9 265,565C260.4,562.1 254.7,556.7 250,552.5C245.3,548.3 241.2,544.2 237,540C232.8,535.8 228.8,531.7 225,527.5C221.2,523.3 217.3,519.2 214,515C210.7,510.8 207.5,506.7 205,502.5C202.5,498.3 200.7,494.2 199,490C197.3,485.8 196.5,482.2 195,477.5C193.5,472.8 191.7,467.4 190,462C188.3,456.6 186.5,450 185,445C183.5,440 182.2,436.2 181,432C179.8,427.8 178.5,425.3 177.5,420C176.5,414.7 175.6,406.2 174.8,400C174,393.8 173.3,388.2 172.5,382.5C171.7,376.8 170.8,371.4 170,366C169.2,360.6 168.5,356.8 167.5,350C166.5,343.2 165,333.3 164,325C163,316.7 161.9,305.7 161.3,300C160.7,294.3 160.7,292.5 160.6,291C160.6,290 160.1,286.7 160.5,285C160.9,283.3 161.6,281.8 162.8,280.8C164,279.8 166.7,279.3 167.5,279L205,275.2" fill="none" stroke="#2b2b33" stroke-width="2.0" />
<g transform="translate(206.4,421.6) rotate(10.5)">
<rect x="-13.5" y="-4.1" width="27" height="8.2" rx="4.1" fill="#f4f4f5" stroke="#2b2b33" stroke-width="1.4"/>
<path d="M-10.0,0.6 L11.5,0.6" stroke="#2b2b33" stroke-width="1.1" fill="none"/>
</g>
<g transform="translate(221.2,453.8) rotate(10.5)">
<rect x="-17.2" y="-4.2" width="34.4" height="8.4" rx="4.2" fill="#f4f4f5" stroke="#2b2b33" stroke-width="1.4"/>
<path d="M-13.7,0.6 L15.2,0.6" stroke="#2b2b33" stroke-width="1.1" fill="none"/>
</g>
<g transform="translate(236,486.2) rotate(10)">
<rect x="-20.8" y="-4.3" width="41.6" height="8.6" rx="4.3" fill="#f4f4f5" stroke="#2b2b33" stroke-width="1.4"/>
<path d="M-17.3,0.6 L18.8,0.6" stroke="#2b2b33" stroke-width="1.1" fill="none"/>
</g>
<g transform="translate(279.1,532.9)">
<ellipse cx="0" cy="0" rx="16.6" ry="15.8" fill="#dededf" stroke="#2b2b33" stroke-width="2"/>
<ellipse cx="-0.9" cy="2.3" rx="11.6" ry="12.2" fill="url(#kn)" stroke="#2b2b33" stroke-width="2.4"/>
<path d="M3.5,-7.5 A11,11.6 0 0 1 8.6,6.5" fill="none" stroke="#c9c9cc" stroke-width="2.4" stroke-dasharray="1.1 1.3" stroke-linecap="butt"/>
<circle cx="-3.2" cy="5.3" r="7.9" fill="#e9e9ea" stroke="#2b2b33" stroke-width="1.6"/>
<circle cx="-3.5" cy="5.6" r="4.1" fill="#cfcfd2" stroke="#2b2b33" stroke-width="1.4"/>
<circle cx="-3.5" cy="5.6" r="1.3" fill="#f2f2f2" stroke="none"/>
</g>
<g transform="translate(560.9,586.3)">
<ellipse cx="0" cy="0" rx="16.6" ry="15.8" fill="#dededf" stroke="#2b2b33" stroke-width="2"/>
<ellipse cx="-0.9" cy="2.3" rx="11.6" ry="12.2" fill="url(#kn)" stroke="#2b2b33" stroke-width="2.4"/>
<path d="M3.5,-7.5 A11,11.6 0 0 1 8.6,6.5" fill="none" stroke="#c9c9cc" stroke-width="2.4" stroke-dasharray="1.1 1.3" stroke-linecap="butt"/>
<circle cx="-3.2" cy="5.3" r="7.9" fill="#e9e9ea" stroke="#2b2b33" stroke-width="1.6"/>
<circle cx="-3.5" cy="5.6" r="4.1" fill="#cfcfd2" stroke="#2b2b33" stroke-width="1.4"/>
<circle cx="-3.5" cy="5.6" r="1.3" fill="#f2f2f2" stroke="none"/>
</g>
<path d="M156.6,184C156.2,178.3 155.3,161.9 154.5,150C153.7,138.1 152.3,125 151.5,112.5C150.7,100 150,85.9 149.5,75C149,64.1 148.5,51.7 148.3,47L148.3,47C148.3,45.8 148,42 148.4,40C148.8,38 149.6,36.3 150.6,35C151.6,33.7 152.9,32.8 154.5,32C156.1,31.2 157.4,30.9 160,30.2C162.6,29.5 165.8,28.4 170,27.6C174.2,26.8 180,25.7 185,25.2C190,24.7 195.3,24.3 200,24.4C204.7,24.5 208.8,25.1 213,26C217.2,26.9 221.2,28 225,30C228.8,32 232.7,34.7 236,38C239.3,41.3 242.2,45.7 245,50C247.8,54.3 250.5,58.6 253,64C255.5,69.4 257.8,75.2 260,82.5C262.2,89.8 263.9,98.8 266,108C268.1,117.2 271,129.2 272.5,137.5C274,145.8 274.5,153.2 275,158C275.5,162.8 275.7,163.8 275.6,166C275.5,168.2 275.3,169.8 274.6,171.5C273.9,173.2 272,175.7 271.5,176.5L271.5,176.5C269.2,178.1 263.2,183.3 258,186C252.8,188.7 246.3,191.3 240,192.8C233.7,194.3 225.5,194.8 220,195.2C214.5,195.6 211,195.6 207,195.4C203,195.2 199.5,194.9 196,194C192.5,193.1 187.7,190.7 186,190L186,190C185,189.6 182.7,186.2 180.1,187.3C177.5,188.4 173.2,194.5 170.7,196.3C168.2,198.1 166.7,198.4 165,198.2C163.3,197.9 161.8,196.2 160.6,194.8C159.4,193.4 158.7,191.8 158,190C157.3,188.2 156.8,185 156.6,184Z" fill="#d9dadb" stroke="#2b2b33" stroke-width="2.4" />
<path d="M200,186.2C202,186.4 207.8,187.3 212,187.6C216.2,187.9 221,188.2 225.4,187.8C229.8,187.4 236.4,185.5 238.6,185" fill="none" stroke="#2b2b33" stroke-width="1.2" />
<path d="M240,186.5C242.5,185.6 250.7,182.9 255,181C259.3,179.1 262.9,177.3 266,175.2C269.1,173.1 272.2,169.6 273.5,168.5" fill="none" stroke="#2b2b33" stroke-width="1.1" />
<path d="M170.3,186L174.6,227L202.8,225.4L196.6,180Z" fill="#d9dadb" stroke="#2b2b33" stroke-width="1.8" />
<path d="M190.6,184L196,226" fill="none" stroke="#2b2b33" stroke-width="1.1" />
<path d="M172.6,227.4L177.8,279L209.4,277L201.4,225.6Z" fill="#d9dadb" stroke="#2b2b33" stroke-width="1.8" />
<path d="M196,226L202.8,277" fill="none" stroke="#2b2b33" stroke-width="1.1" />
<path d="M166,168L165,198.2C165.9,197.9 168.2,198.1 170.7,196.3C173.2,194.5 177.3,189.6 180.1,187.3C182.9,185 185.5,183.6 187.7,182.6C189.9,181.6 192,181.3 193.5,181.4C195,181.5 196.1,183.1 196.6,183.4L200.4,172L201,168Z" fill="#d9dadb" stroke="none" stroke-width="0" />
<path d="M156.6,184C156.8,185 157.3,188.2 158,190C158.7,191.8 159.4,193.4 160.6,194.8C161.8,196.2 163.3,197.9 165,198.2C166.7,198.4 168.2,198.1 170.7,196.3C173.2,194.5 177.3,189.6 180.1,187.3C182.9,185 185.5,183.6 187.7,182.6C189.9,181.6 192,181.3 193.5,181.4C195,181.5 196.1,183.1 196.6,183.4" fill="none" stroke="#2b2b33" stroke-width="2.4" />
<path d="M151.6,37.8C152.2,37.3 153.6,35.6 155,34.8C156.4,34 157.4,33.6 160,33.2C162.6,32.8 167.2,32.1 170.3,32.4C173.4,32.7 176.4,33.8 178.4,35C180.4,36.2 181.9,38.8 182.6,39.6" fill="none" stroke="#2b2b33" stroke-width="1.3" />
<path d="M181.4,32C182.2,32.7 184.5,34.4 186,36C187.5,37.6 189.2,39.3 190.5,41.6C191.8,43.9 193,46.9 194,50C195,53.1 195.7,55 196.5,60C197.3,65 197.9,73.3 198.6,80C199.2,86.7 199.9,92.5 200.4,100C200.9,107.5 201.4,117.5 201.8,125C202.2,132.5 202.5,139.2 202.6,145C202.7,150.8 202.5,155.3 202.2,160C201.9,164.7 201.2,169.6 200.6,173C200,176.4 199.2,178.8 198.5,180.5C197.8,182.2 196.9,182.9 196.6,183.4" fill="none" stroke="#2b2b33" stroke-width="1.5" />
<path d="M189,37.6C189.7,38.7 192.1,41.6 193.4,44C194.7,46.4 195.7,48.7 196.6,52C197.5,55.3 198.3,59 199,64C199.7,69 200.4,75.7 201,82C201.6,88.3 202.2,94.5 202.8,102C203.4,109.5 204,119.5 204.4,127C204.8,134.5 205,141.2 205,147C205,152.8 204.9,157.3 204.6,162C204.3,166.7 203.6,171.3 203,175C202.4,178.7 201.3,182.5 201,184" fill="none" stroke="#77777d" stroke-width="0.8" />
<rect x="19.3" y="92" width="55.1" height="57.3" fill="#404047"/>
<text transform="translate(43.8,142) scale(0.94,1)" x="0" y="0" font-family="Liberation Sans, sans-serif" font-weight="700" font-size="57.6" fill="#fff" text-anchor="middle">9</text>
<circle cx="103.9" cy="117.8" r="16.5" fill="#2e2d33"/>
<path d="M94.4,120.4L98.4,125.4L112,112.4" fill="none" stroke="#fff" stroke-width="5.2" stroke-linejoin="round" stroke-linecap="round"/>
<path d="M127.1,101.6L142.5,98L141,83L170.2,108.9L152.2,142.6L148,124.8L131.1,127Z" fill="#2e2d33" stroke="#fff" stroke-width="3.2" stroke-linejoin="miter" paint-order="stroke"/>
</svg>
</body></html>
